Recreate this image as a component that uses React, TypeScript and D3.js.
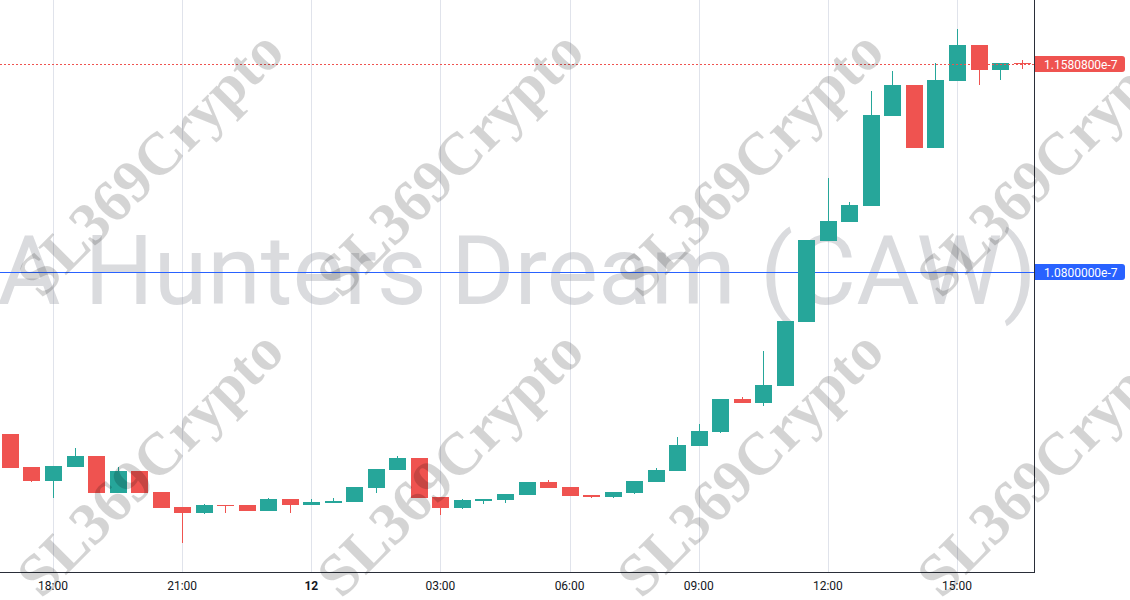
import React from "react";
import * as d3 from "d3";

// 30-minute candles, from 11th 17:00 to 12th 16:30 (price in units of 1e-7)
const startTime = new Date(2024, 0, 11, 17, 0);
const candleCount = 48;
const open = [
  1.0192, 1.0069, 1.0016, 1.0069, 1.011, 0.9971, 1.0054, 0.9975, 0.9919, 0.9896, 0.9926, 0.9926,
  0.9904, 0.9949, 0.9926, 0.9934, 0.9937, 0.999, 1.0057, 1.0102, 0.9956, 0.9915, 0.9941, 0.9945,
  0.9964, 1.0012, 0.9994, 0.9964, 0.9956, 0.9971, 1.0012, 1.0054, 1.0147, 1.02, 1.0324, 1.0309,
  1.0372, 1.0612, 1.0916, 1.0988, 1.1048, 1.1385, 1.1501, 1.1265, 1.1516, 1.1651, 1.1558, 1.1584,
];
const high = [
  1.0192, 1.0069, 1.0072, 1.014, 1.011, 1.0069, 1.0054, 0.9975, 0.9919, 0.993, 0.9926, 0.9926,
  0.9952, 0.9949, 0.9949, 0.9952, 0.9994, 1.0061, 1.011, 1.0102, 0.9956, 0.9949, 0.9949, 0.9967,
  1.0012, 1.002, 0.9994, 0.9964, 0.9975, 1.0016, 1.0065, 1.0181, 1.023, 1.0324, 1.0331, 1.0504,
  1.0616, 1.092, 1.1153, 1.1063, 1.1479, 1.1554, 1.1501, 1.1584, 1.1711, 1.1651, 1.1584, 1.1595,
];
const low = [
  1.0065, 1.0012, 0.9952, 1.0069, 0.9971, 0.9971, 0.9971, 0.9915, 0.9784, 0.9892, 0.9896, 0.9904,
  0.9904, 0.9896, 0.9926, 0.9934, 0.9937, 0.9971, 1.0057, 0.9952, 0.9889, 0.9911, 0.993, 0.9934,
  0.9964, 0.999, 0.996, 0.9952, 0.9952, 0.9967, 1.0012, 1.0054, 1.0147, 1.0196, 1.0309, 1.0297,
  1.0372, 1.0612, 1.0916, 1.0988, 1.1048, 1.1385, 1.1265, 1.1265, 1.1516, 1.1501, 1.152, 1.1561,
];
const close = [
  1.0065, 1.0016, 1.0072, 1.011, 0.9971, 1.0054, 0.9971, 0.9915, 0.9896, 0.9926, 0.9922, 0.9904,
  0.9949, 0.9926, 0.9937, 0.9941, 0.9994, 1.0061, 1.0102, 0.9952, 0.9915, 0.9945, 0.9949, 0.9967,
  1.0012, 0.999, 0.996, 0.9956, 0.9975, 1.0016, 1.0057, 1.0151, 1.0204, 1.0324, 1.0309, 1.0376,
  1.0616, 1.092, 1.0991, 1.1051, 1.1389, 1.1501, 1.1265, 1.152, 1.1651, 1.1558, 1.1584, 1.158008,
];
const lastPrice = 1.158008;
const lastPriceLabel = "1.1580800e-7";
const markPrice = 1.08;
const markPriceLabel = "1.0800000e-7";
const titleWatermark = "A Hunters Dream (CAW)";
const tileWatermark = "SL369Crypto";

const W = 1130;
const H = 600;
const plotW = 1034;
const plotH = 572;
const UP = "#26a69a";
const DOWN = "#ef5350";

export default function App() {
  const times = d3.range(candleCount).map((i) => d3.timeMinute.offset(startTime, i * 30));
  const x = d3
    .scaleTime()
    .domain([new Date(2024, 0, 11, 18, 0), new Date(2024, 0, 12, 15, 0)])
    .range([53, 957]);
  const y = d3.scaleLinear().domain([markPrice, lastPrice]).range([272, 64]);
  const step = x(times[1]) - x(times[0]);
  const bodyW = Math.round(step * 0.8);

  const ticks = x.ticks(d3.timeHour.every(3)).filter((t) => x(t) > 0 && x(t) < plotW);
  const fmt = (t: Date) => (t.getHours() === 0 ? d3.timeFormat("%-d")(t) : d3.timeFormat("%H:%M")(t));

  const tiles: [number, number][] = [];
  for (let j = 0; j < 2; j++) for (let i = 0; i < 4; i++) tiles.push([150 + 300 * i, 163 + 300 * j]);

  return (
    <svg
      width={W}
      height={H}
      style={{ position: "absolute", left: 0, top: 0, background: "#fff" }}
      fontFamily="Roboto, 'Liberation Sans', sans-serif"
    >
      <defs>
        <clipPath id="plot">
          <rect x={0} y={0} width={plotW} height={plotH} />
        </clipPath>
      </defs>
      <rect x={0} y={0} width={W} height={H} fill="#fff" />
      <g clipPath="url(#plot)">
        {ticks.map((t, i) => (
          <line key={i} x1={Math.round(x(t)) + 0.5} x2={Math.round(x(t)) + 0.5} y1={0} y2={plotH} stroke="#e0e3eb" />
        ))}
        <text x={517} y={304} textAnchor="middle" fontSize={97} fill="rgba(149,152,161,0.35)">
          {titleWatermark}
        </text>
        <line x1={0} x2={plotW} y1={Math.round(y(markPrice)) + 0.5} y2={Math.round(y(markPrice)) + 0.5} stroke="#2962ff" />
        {times.map((t, i) => {
          const cx = Math.round(x(t));
          const up = close[i] >= open[i];
          const col = up ? UP : DOWN;
          const top = Math.round(y(Math.max(open[i], close[i])));
          const bot = Math.round(y(Math.min(open[i], close[i])));
          return (
            <g key={i}>
              <rect x={cx} y={Math.round(y(high[i]))} width={1} height={Math.round(y(low[i])) - Math.round(y(high[i]))} fill={col} />
              <rect x={cx - Math.floor(bodyW / 2)} y={top} width={bodyW} height={Math.max(1, bot - top)} fill={col} />
            </g>
          );
        })}
        <line
          x1={0}
          x2={plotW}
          y1={Math.round(y(lastPrice)) + 0.5}
          y2={Math.round(y(lastPrice)) + 0.5}
          stroke={DOWN}
          strokeDasharray="2 2"
        />
      </g>
      <line x1={0} x2={plotW} y1={plotH + 0.5} y2={plotH + 0.5} stroke="#2a2e39" />
      <line x1={plotW + 0.5} x2={plotW + 0.5} y1={0} y2={plotH + 1} stroke="#2a2e39" />
      {ticks.map((t, i) => (
        <text
          key={i}
          x={x(t)}
          y={590}
          textAnchor="middle"
          fontSize={12}
          fill="#131722"
          fontWeight={t.getHours() === 0 ? "bold" : "normal"}
        >
          {fmt(t)}
        </text>
      ))}
      {[
        { v: lastPrice, label: lastPriceLabel, col: DOWN },
        { v: markPrice, label: markPriceLabel, col: "#2962ff" },
      ].map((p, i) => {
        const cy = Math.round(y(p.v));
        return (
          <g key={i}>
            <path
              d={`M${plotW + 1},${cy - 8} H${1122} a3,3 0 0 1 3,3 V${cy + 5} a3,3 0 0 1 -3,3 H${plotW + 1} Z`}
              fill={p.col}
            />
            <text x={1044} y={cy + 4.5} fontSize={12} fill="#fff">
              {p.label}
            </text>
          </g>
        );
      })}
      {tiles.map(([cx, cy], i) => (
        <text
          key={i}
          transform={`translate(${cx},${cy}) rotate(-45)`}
          textAnchor="middle"
          dominantBaseline="central"
          fontFamily="'Liberation Serif', 'DejaVu Serif', serif"
          fontWeight="bold"
          fontSize={60}
          fill="rgba(0,0,0,0.17)"
        >
          {tileWatermark}
        </text>
      ))}
    </svg>
  );
}
